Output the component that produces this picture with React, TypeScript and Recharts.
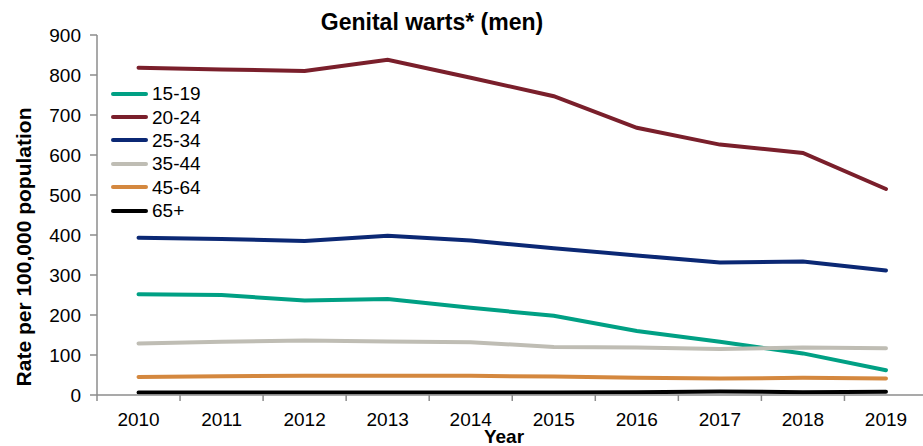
import React from 'react';
import { LineChart, Line, XAxis, YAxis, Legend } from 'recharts';

const years = [2010, 2011, 2012, 2013, 2014, 2015, 2016, 2017, 2018, 2019];
const age15to19 = [252, 250, 236, 240, 218, 198, 160, 133, 104, 62];
const age20to24 = [818, 814, 810, 838, 793, 747, 668, 626, 605, 515];
const age25to34 = [393, 390, 385, 398, 386, 367, 349, 331, 334, 311];
const age35to44 = [129, 133, 136, 134, 132, 120, 119, 115, 119, 117];
const age45to64 = [45, 47, 48, 48, 48, 46, 43, 41, 43, 41];
const age65plus = [6, 6, 6, 6, 6, 6, 7, 9, 7, 8];
const yTicks = [0, 100, 200, 300, 400, 500, 600, 700, 800, 900];

const series = [
  { key: 'a1519', name: '15-19', color: '#00A084', values: age15to19 },
  { key: 'a2024', name: '20-24', color: '#7A1F2B', values: age20to24 },
  { key: 'a2534', name: '25-34', color: '#0B2874', values: age25to34 },
  { key: 'a3544', name: '35-44', color: '#BFBDB4', values: age35to44 },
  { key: 'a4564', name: '45-64', color: '#D4883F', values: age45to64 },
  { key: 'a65', name: '65+', color: '#000000', values: age65plus },
];

const data = years.map((year, i) => {
  const row: { [k: string]: number } = { year };
  series.forEach((s) => {
    row[s.key] = s.values[i];
  });
  return row;
});

const FONT = '"Liberation Sans", Arial, sans-serif';
const AXIS_COLOR = '#8C8C8C';
const CHART_W = 930;
const CHART_H = 446;
const Y_AXIS_W = 97;
const MARGIN = { top: 35, right: 2.5, left: 0, bottom: 21 };
const PLOT_BOTTOM = CHART_H - MARGIN.bottom - 30;
const HALF_BAND = (CHART_W - Y_AXIS_W - MARGIN.right) / years.length / 2;

const YearTick = (props: any) => {
  const { x, payload } = props;
  return (
    <g>
      <line x1={x - HALF_BAND} x2={x - HALF_BAND} y1={PLOT_BOTTOM} y2={PLOT_BOTTOM + 6} stroke={AXIS_COLOR} strokeWidth={1.5} />
      <text x={x} y={PLOT_BOTTOM + 31} textAnchor="middle" fontSize={19} fontFamily={FONT} fill="#000">
        {payload.value}
      </text>
    </g>
  );
};

const LegendList = () => (
  <div style={{ fontFamily: FONT, fontSize: 19, color: '#000' }}>
    {series.map((s) => (
      <div key={s.key} style={{ display: 'flex', alignItems: 'center', height: 23.4 }}>
        <div style={{ width: 37, height: 4, background: s.color, borderRadius: 2, marginRight: 4 }} />
        <span style={{ lineHeight: '23px' }}>{s.name}</span>
      </div>
    ))}
  </div>
);

export default function App() {
  return (
    <div style={{ position: 'absolute', left: 0, top: 0, width: 923, height: CHART_H, overflow: 'hidden', background: '#fff' }}>
      <LineChart width={CHART_W} height={CHART_H} data={data} margin={MARGIN}>
        <XAxis
          dataKey="year"
          type="number"
          domain={[2009.5, 2019.5]}
          ticks={years}
          height={30}
          tickLine={false}
          axisLine={{ stroke: AXIS_COLOR, strokeWidth: 1.5 }}
          tick={<YearTick />}
          interval={0}
        />
        <YAxis
          width={Y_AXIS_W}
          domain={[0, 900]}
          ticks={yTicks}
          interval={0}
          tickSize={7}
          tickMargin={9}
          axisLine={{ stroke: AXIS_COLOR, strokeWidth: 1.5 }}
          tickLine={{ stroke: AXIS_COLOR, strokeWidth: 1.5 }}
          tick={{ fontSize: 19, fill: '#000', fontFamily: FONT }}
        />
        <Legend
          layout="vertical"
          verticalAlign="middle"
          align="center"
          content={<LegendList />}
          wrapperStyle={{ top: 82, left: 111, width: 120, height: 145 }}
        />
        {series.map((s) => (
          <Line
            key={s.key}
            type="linear"
            dataKey={s.key}
            name={s.name}
            stroke={s.color}
            strokeWidth={4}
            dot={false}
            strokeLinecap="round"
            isAnimationActive={false}
          />
        ))}
      </LineChart>
      <div
        style={{
          position: 'absolute',
          left: 432,
          top: 22,
          transform: 'translate(-50%, -50%)',
          fontFamily: FONT,
          fontWeight: 'bold',
          fontSize: 23,
          whiteSpace: 'nowrap',
        }}
      >
        Genital warts* (men)
      </div>
      <div
        style={{
          position: 'absolute',
          left: 24,
          top: 247,
          transform: 'translate(-50%, -50%) rotate(-90deg)',
          fontFamily: FONT,
          fontWeight: 'bold',
          fontSize: 21,
          whiteSpace: 'nowrap',
        }}
      >
        Rate per 100,000 population
      </div>
      <div
        style={{
          position: 'absolute',
          left: 504,
          top: 436,
          transform: 'translate(-50%, -50%)',
          fontFamily: FONT,
          fontWeight: 'bold',
          fontSize: 19,
          lineHeight: '19px',
          whiteSpace: 'nowrap',
        }}
      >
        Year
      </div>
    </div>
  );
}
